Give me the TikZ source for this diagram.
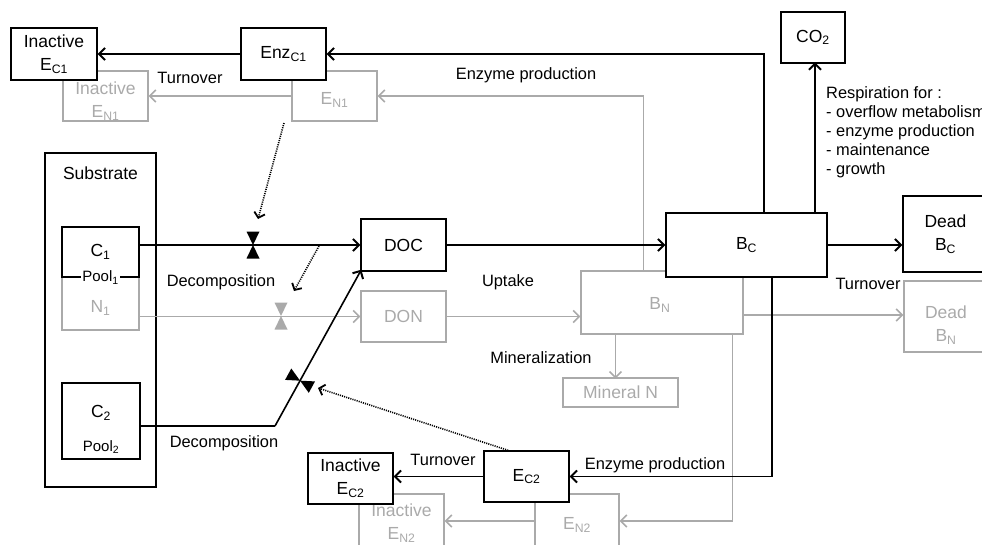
\documentclass[tikz,border=0pt]{standalone}
\usepackage{fontspec}
\setmainfont{Liberation Sans}
\usetikzlibrary{arrows.meta,calc}
\definecolor{lg}{HTML}{AAAAAA}
\newcommand\bfs{\fontsize{17.5}{23}\selectfont}
\newcommand\lfs{\fontsize{16.4}{19}\selectfont}
\newcommand\pfs{\fontsize{15}{18}\selectfont}
\newcommand\valve[3]{%
  \begin{scope}[shift={(#1)},rotate=#2]
    \fill[#3] (0,0) -- (-6.5,-13.5) -- (6.5,-13.5) -- cycle;
    \fill[#3] (0,0) -- (-6.5,13.5) -- (6.5,13.5) -- cycle;
  \end{scope}}
\tikzset{
  sz/.style 2 args={minimum width=#1, minimum height=#2},
  box/.style={draw, line width=1.3pt, fill=white, inner sep=0pt, align=center, font=\bfs},
  gbox/.style={draw=lg, text=lg, line width=1.3pt, fill=white, inner sep=0pt, align=center, font=\bfs},
  gtxt/.style={text=lg, inner sep=0pt, align=center, font=\bfs},
  btxt/.style={inner sep=0pt, align=center, font=\bfs},
  lbl/.style={inner sep=0pt, font=\lfs},
  arr/.style={line width=1.6pt, -{Straight Barb[length=6pt,width=12pt,line width=2pt]}},
  garr/.style={draw=lg, line width=1.4pt, -{Straight Barb[length=6pt,width=12pt,line width=1.6pt]}},
  blk/.style={line width=1.6pt},
  gln/.style={draw=lg, line width=1.4pt},
  dots/.style={line width=1.6pt, dash pattern=on 1.1pt off 1.1pt, -{Straight Barb[length=5pt,width=11pt,line width=1.8pt]}},
}
\begin{document}
\begin{tikzpicture}[x=1pt,y=-1pt]
\useasboundingbox (0,0) rectangle (982,544);

% ---------- substrate ----------
\node[box, sz={111}{334}] (sub) at (100.5,320) {};
\node[btxt] (subt) at (100.5,173) {Substrate};

% ---------- gray boxes ----------
\node[gbox, sz={85}{50}] (IEN1) at (105.5,96) {};
\node[gtxt] (IEN1t) at (105.5,101) {Inactive\\E\textsubscript{N1}};
\node[gbox, sz={85}{50}] (EN1) at (334.5,96) {};
\node[gtxt] (EN1t) at (334.5,100) {E\textsubscript{N1}};
\node[gbox, sz={77}{53}] (N1) at (100.5,303.5) {};
\node[gtxt] (N1t) at (100.5,308) {N\textsubscript{1}};
\node[gbox, sz={85}{51}] (DON) at (403.5,316.5) {DON};
\node[gbox, sz={162}{63}] (BN) at (662,302.5) {};
\node[gtxt] (BNt) at (660,305) {B\textsubscript{N}};
\node[gbox, sz={115}{29}] (MinN) at (620.5,392.5) {Mineral N};
\node[gbox, sz={84}{71}] (DBN) at (946,316.5) {};
\node[gtxt] (DBNt) at (946,325) {Dead\\B\textsubscript{N}};
\node[gbox, sz={85}{54}] (IEN2) at (401.5,521) {};
\node[gtxt] (IEN2t) at (401.5,523) {Inactive\\E\textsubscript{N2}};
\node[gbox, sz={84}{54}] (EN2) at (577,521) {};
\node[gtxt] (EN2t) at (577,525) {E\textsubscript{N2}};

% ---------- gray connectors ----------
\draw[garr] (EN1.west) -- (IEN1.east |- EN1.west);
\draw[garr] ([xshift=63pt]BN.north west) |- (EN1.east);
\draw[gln] (N1.east |- DON.west) -- (DON.west);
\draw[garr] (DON.west) ++(-40,0) -- (DON.west);
\draw[garr] (DON.east) -- (BN.west |- DON.east);
\draw[garr] (MinN.north |- BN.south) ++(-5,0) -- ++(0,44);
\draw[garr] (BN.east |- DBN.west) ++(0,-1.5) -- (DBN.west |- 0,315);
\draw[garr] ([xshift=-11pt]BN.south east) |- (EN2.east);
\draw[garr] (EN2.west) -- (IEN2.east);
\valve{281,316}{0}{lg}

% ---------- black boxes ----------
\node[box, sz={86}{52}] (IEC1) at (54,54) {Inactive\\E\textsubscript{C1}};
\node[box, sz={85}{52}] (EnzC1) at (283.5,54) {Enz\textsubscript{C1}};
\node[box, sz={64}{51}] (CO2) at (813,37.5) {CO\textsubscript{2}};
\node[box, sz={77}{50}] (C1) at (100.5,252) {C\textsubscript{1}};
\node[fill=white, inner sep=1.5pt, font=\pfs] (pool1) at (C1.south) {Pool\textsubscript{1}};
\node[box, sz={78}{76}] (C2) at (101,421) {};
\node[btxt] (C2t) at (101,413) {C\textsubscript{2}};
\node[btxt, font=\pfs] (pool2) at (101,447) {Pool\textsubscript{2}};
\node[box, sz={85}{52}] (DOC) at (403.5,245) {DOC};
\node[box, sz={161}{64}] (BC) at (746.5,245) {B\textsubscript{C}};
\node[box, sz={85}{76}] (DBC) at (945.5,234) {Dead\\B\textsubscript{C}};
\node[box, sz={85}{51}] (IEC2) at (350.5,478.5) {Inactive\\E\textsubscript{C2}};
\node[box, sz={85}{51}] (EC2) at (526.5,476.5) {E\textsubscript{C2}};

% ---------- black connectors ----------
\draw[arr] (EnzC1.west) -- (IEC1.east);
\draw[arr] ([xshift=98.5pt]BC.north west) |- (EnzC1.east);
\draw[arr] (BC.north -| CO2.south) ++(2,0) -- ++(0,-150);
\draw[arr] (C1.east |- DOC.west) -- (DOC.west);
\draw[arr] (DOC.east) -- (BC.west);
\coordinate (c2k) at (275,426);
\draw[blk] (C2.east |- c2k) -- (c2k);
\draw[arr] (c2k) -- coordinate[pos=0.29] (v3) ([shift={(1,-2)}]DOC.south west);
\draw[arr] (BC.east) -- (DBC.west |- BC.east);
\draw[arr] ([xshift=106.5pt]BC.south west) |- (EC2.east);
\draw[arr] (EC2.west) -- (IEC2.east |- EC2.west);
\valve{253,245}{0}{black}
\valve{v3}{61.4}{black}

% ---------- dotted (regulation) ----------
\coordinate (d1s) at (284,123);
\coordinate (d1e) at (258,219);
\draw[dots] (d1s) -- (d1e);
\coordinate (d2s) at (319,246);
\coordinate (d2e) at (294,291);
\draw[dots] (d2s) -- (d2e);
\coordinate (d3e) at (318,388);
\draw[dots] ([xshift=-18.5pt]EC2.north east) ++(-43,0) -- (d3e);

% ---------- labels ----------
\node[lbl] (l1) at (190,78) {Turnover};
\node[lbl] (l2) at (526,75) {Enzyme production};
\node[lbl, anchor=north west, align=left] (l3) at (826,86)
  {Respiration for :\\- overflow metabolism\\- enzyme production\\- maintenance\\- growth};
\node[lbl] (l4) at (221,282) {Decomposition};
\node[lbl] (l5) at (224,443) {Decomposition};
\node[lbl] (l6) at (508,282) {Uptake};
\node[lbl] (l7) at (541,358) {Mineralization};
\node[lbl] (l8) at (868,284) {Turnover};
\node[lbl] (l9) at (443,460) {Turnover};
\node[lbl] (l10) at (655,465) {Enzyme production};
\end{tikzpicture}
\end{document}
